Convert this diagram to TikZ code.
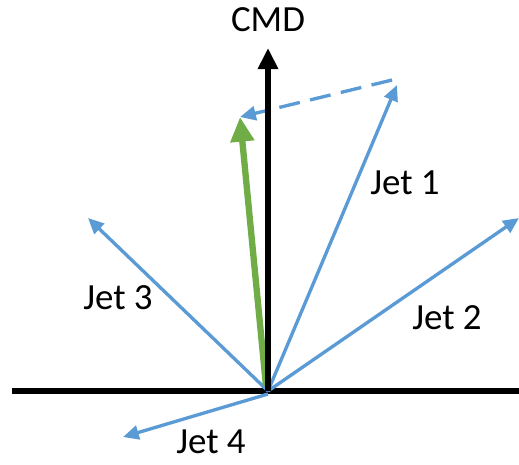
\documentclass[tikz,border=0pt]{standalone}
\usepackage{fontspec}
\setmainfont{Carlito}
\usetikzlibrary{arrows.meta,positioning}
\definecolor{jetblue}{HTML}{5B9BD5}
\definecolor{cmdgreen}{HTML}{70AD47}

\begin{document}
\begin{tikzpicture}[
        x=0.02cm, y=-0.02cm,
        jet/.style={-{Triangle[length=9pt,width=8pt]}, jetblue, line width=1.9pt},
        cmdarrow/.style={-{Triangle[length=12pt,width=11pt]}, black, line width=3pt},
        sumarrow/.style={-{Triangle[length=14pt,width=13pt]}, cmdgreen, line width=3.6pt},
        label/.style={font=\fontsize{21}{25}\selectfont, inner sep=0pt}
    ]
        \useasboundingbox (0,0) rectangle (519,464);

        % Origin and ends
        \coordinate (o) at (268,391);
        \coordinate (left) at (12,391);
        \coordinate (right) at (519,391);
        \coordinate (cmdtip) at (268,48);
        \coordinate (j1) at (397,85);
        \coordinate (j2) at (519,218);
        \coordinate (j3) at (88,218);
        \coordinate (j4) at (123,437);
        \coordinate (o4) at (268,394);
        \coordinate (sum) at (240,117);
        \coordinate (dstart) at (392,80);

        % Ground line
        \draw[black, line width=3pt] (left) -- (right);

        % Jets
        \draw[jet] (o) -- (j1);
        \draw[jet] (o) -- (j2);
        \draw[jet] (o) -- (j3);
        \draw[jet] (o4) -- (j4);

        % Dashed shift
        \draw[jet, dash pattern=on 12pt off 6pt] (dstart) -- (sum);

        % Sum and CMD
        \draw[sumarrow] (266,386) -- (sum);
        \draw[cmdarrow] (o) -- (cmdtip);

        % Labels
        \node[label] (cmd) at (268,20) {CMD};
        \node[label] (l1) at (405,183) {Jet 1};
        \node[label] (l2) at (447,318) {Jet 2};
        \node[label] (l3) at (118,298) {Jet 3};
        \node[label] (l4) at (211,442) {Jet 4};
    \end{tikzpicture}
\end{document}
